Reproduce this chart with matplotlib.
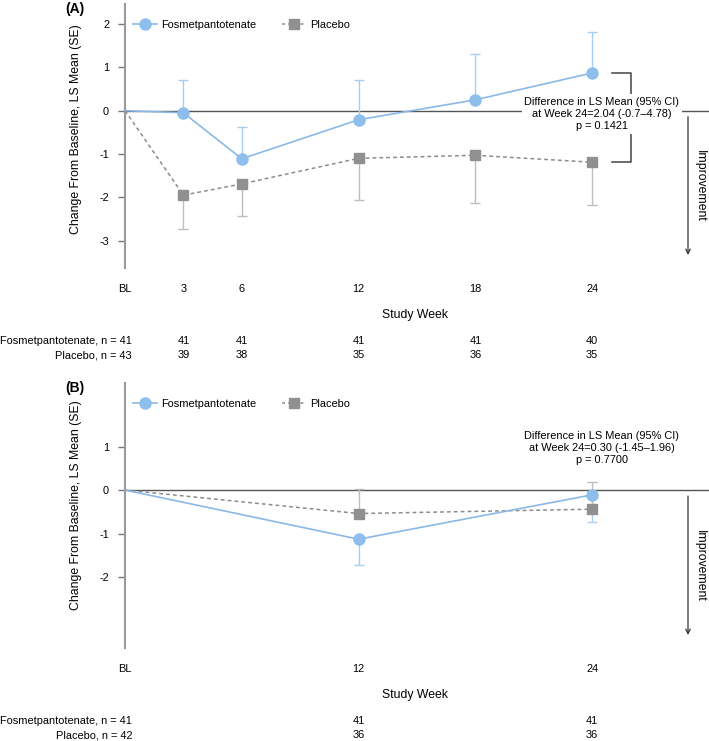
import matplotlib
matplotlib.use('Agg')
import matplotlib.pyplot as plt
from matplotlib.lines import Line2D
from matplotlib.transforms import blended_transform_factory

plt.rcParams['font.family'] = ['Liberation Sans', 'DejaVu Sans']
plt.rcParams['axes.unicode_minus'] = False

# ---------------- data ----------------
# Panel A
weeks_a = [0, 3, 6, 12, 18, 24]
labels_a = ['BL', '3', '6', '12', '18', '24']
fos_a = [0, -0.05, -1.11, -0.21, 0.25, 0.87]
fos_a_se = [0, 0.76, 0.74, 0.92, 1.05, 0.94]      # drawn upward
pla_a = [0, -1.95, -1.69, -1.10, -1.03, -1.19]
pla_a_se = [0, 0.79, 0.75, 0.96, 1.09, 0.99]      # drawn downward
n_fos_a = [41, 41, 41, 41, 40]
n_pla_a = [39, 38, 35, 36, 35]
n_fos_a_base, n_pla_a_base = 41, 43
text_a = "Difference in LS Mean (95% CI)\nat Week 24=2.04 (-0.7\u20134.78)\np = 0.1421"
yticks_a = [-3, -2, -1, 0, 1, 2]

# Panel B
weeks_b = [0, 12, 24]
labels_b = ['BL', '12', '24']
fos_b = [0, -1.13, -0.11]
fos_b_se = [0, 0.59, 0.63]      # drawn downward
pla_b = [0, -0.54, -0.44]
pla_b_se = [0, 0.56, 0.62]      # drawn upward
n_fos_b = [41, 41]
n_pla_b = [36, 36]
n_fos_b_base, n_pla_b_base = 41, 42
text_b = "Difference in LS Mean (95% CI)\nat Week 24=0.30 (-1.45\u20131.96)\np = 0.7700"
yticks_b = [-2, -1, 0, 1]

# ---------------- style ----------------
BLUE = '#8ab9e8'
BLUE_M = '#8ebfec'
BLUE_E = '#a9cdf0'
GRAY = '#8c8c8c'
GRAY_M = '#909090'
GRAY_E = '#bdbdbd'
FS = 7.9
FS_L = 8.8

W, H = 709, 741
fig = plt.figure(figsize=(W / 100, H / 100), dpi=100)


def fx(x):
    return x / W


def fy(y):
    return 1 - y / H


def panel(top, bottom, weeks, labels, fos, fos_se, fos_up, pla, pla_se, pla_up,
          yticks, nf, npl, nfb, npb, note, note_y, letter, bracket):
    ax = fig.add_axes([fx(125), fy(bottom), fx(584), (bottom - top) / H])
    ax.set_xlim(0, 30.0)
    ax.set_ylim(-3.63, 2.46)
    for s in ['top', 'right', 'bottom']:
        ax.spines[s].set_visible(False)
    ax.spines['left'].set_color('#9a9a9a')
    ax.spines['left'].set_linewidth(1.5)
    ax.axhline(0, color='#555555', lw=1.0, zorder=1)

    ax.set_yticks(yticks)
    ax.set_yticklabels([str(v) for v in yticks])
    ax.tick_params(axis='y', length=5, width=1, color='#777777', pad=6.5,
                   labelsize=FS, direction='out')
    ax.set_xticks(weeks)
    ax.set_xticklabels(labels)
    ax.tick_params(axis='x', length=0, pad=11.5, labelsize=FS)

    # error bars (one-sided)
    w1 = weeks[1:]
    f1 = fos[1:]
    p1 = pla[1:]
    fe = fos_se[1:]
    pe = pla_se[1:]
    z = [0] * len(fe)
    ax.errorbar(w1, f1, yerr=[z, fe] if fos_up else [fe, z], fmt='none',
                ecolor=BLUE_E, elinewidth=1.0, capsize=3.6, capthick=1.0, zorder=2)
    ax.errorbar(w1, p1, yerr=[z, pe] if pla_up else [pe, z], fmt='none',
                ecolor=GRAY_E, elinewidth=1.0, capsize=3.6, capthick=1.0, zorder=2)

    ax.plot(weeks, pla, color=GRAY, lw=1.1, ls=(0, (2.5, 2)), marker='s', ms=7.5,
            mfc=GRAY_M, mec=GRAY_M, markevery=list(range(1, len(weeks))), zorder=3)
    ax.plot(weeks, fos, color=BLUE, lw=1.2, marker='o', ms=8,
            mfc=BLUE_M, mec=BLUE_M, markevery=list(range(1, len(weeks))), zorder=4)

    if bracket:
        ax.plot([25.0, 26.0, 26.0, 25.0], [fos[-1], fos[-1], pla[-1], pla[-1]],
                color='#444444', lw=1.1, zorder=2, clip_on=False)

    # legend
    h1 = Line2D([], [], color=BLUE, lw=1.2, marker='o', ms=8, mfc=BLUE_M, mec=BLUE_M)
    h2 = Line2D([], [], color=GRAY, lw=1.1, ls=(0, (2, 2)), marker='s', ms=7.5,
                mfc=GRAY_M, mec=GRAY_M)
    ax.legend([h1, h2], ['Fosmetpantotenate', 'Placebo'], loc='center left',
              bbox_to_anchor=(fx(133), fy(top + 21)), bbox_transform=fig.transFigure,
              ncol=2, frameon=False, fontsize=FS, borderpad=0, borderaxespad=0,
              handlelength=2.2, handletextpad=0.4, columnspacing=2.3)

    # labels
    fig.text(fx(76), fy(top + (125 if letter == '(A)' else 122)),
             'Change From Baseline, LS Mean (SE)', rotation=90,
             ha='center', va='center', fontsize=FS_L)
    fig.text(fx(65), fy(top + 5), letter, fontweight='bold', fontsize=10,
             ha='left', va='center')
    fig.text(fx(415), fy(bottom + 47), 'Study Week', ha='center', va='center',
             fontsize=FS_L)

    # n rows
    tr = blended_transform_factory(ax.transData, fig.transFigure)
    y1, y2 = fy(bottom + 73), fy(bottom + 87)
    fig.text(fx(132), y1, f'Fosmetpantotenate, n = {nfb}', ha='right', va='center',
             fontsize=FS)
    fig.text(fx(132), y2, f'Placebo, n = {npb}', ha='right', va='center', fontsize=FS)
    for w, a, b in zip(weeks[1:], nf, npl):
        ax.text(w, y1, str(a), transform=tr, ha='center', va='center', fontsize=FS)
        ax.text(w, y2, str(b), transform=tr, ha='center', va='center', fontsize=FS)

    # annotation
    fig.text(fx(602), fy(note_y), note, ha='center', va='center',
             multialignment='center', fontsize=FS, linespacing=1.25,
             bbox=dict(boxstyle='square,pad=0.25', fc='white', ec='none'))

    # improvement arrow
    zero_px = top + (bottom - top) * (2.46 / (2.46 + 3.63))
    ax.annotate('', xy=(fx(688), fy(bottom - 13)), xytext=(fx(688), fy(zero_px + 6)),
                xycoords='figure fraction', textcoords='figure fraction',
                arrowprops=dict(arrowstyle='->', color='#333333', lw=0.9,
                                shrinkA=0, shrinkB=0, mutation_scale=8))
    fig.text(fx(700), fy((zero_px + 6 + bottom - 13) / 2), 'Improvement', rotation=-90,
             ha='center', va='center', fontsize=FS_L)
    return ax


panel(4, 268, weeks_a, labels_a, fos_a, fos_a_se, True, pla_a, pla_a_se, False,
      yticks_a, n_fos_a, n_pla_a, n_fos_a_base, n_pla_a_base, text_a, 114, '(A)', True)
panel(383, 648, weeks_b, labels_b, fos_b, fos_b_se, False, pla_b, pla_b_se, True,
      yticks_b, n_fos_b, n_pla_b, n_fos_b_base, n_pla_b_base, text_b, 448, '(B)', False)

fig.savefig('out.png', dpi=100)
